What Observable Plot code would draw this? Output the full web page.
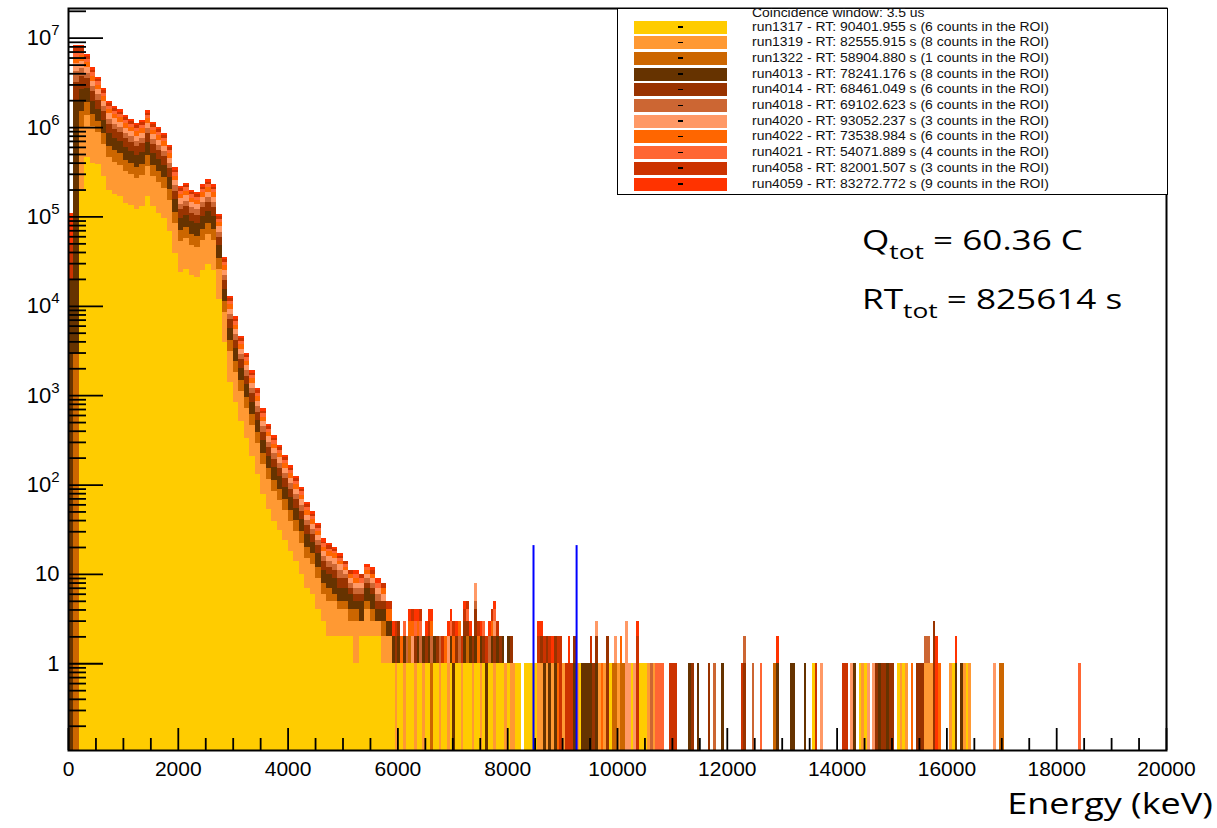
<!DOCTYPE html>
<html><head><meta charset="utf-8">
<script src="https://cdn.jsdelivr.net/npm/d3@7"></script>
<script src="https://cdn.jsdelivr.net/npm/@observablehq/plot@0.6"></script>
<style>
html,body{margin:0;padding:0;background:#fff;}
#wrap{position:relative;width:1217px;height:828px;overflow:hidden;}
#chart svg{display:block;}
#ticks{position:absolute;left:0;top:0;width:1217px;height:828px;pointer-events:none;}
#ticks svg{display:block;background:transparent;}
#legend{position:absolute;left:617px;top:8px;width:551px;height:187px;box-sizing:border-box;border:1.5px solid #000;background:#fff;font-family:"Liberation Sans",Arial,sans-serif;}
.sw{position:absolute;left:16px;width:93px;height:13px;}
.dash{position:absolute;left:44px;top:5.5px;width:5px;height:1.6px;background:#000;}
.lt{position:absolute;left:134px;font-size:12px;line-height:13px;color:#111;white-space:nowrap;transform:scaleX(1.16);transform-origin:0 50%;}
.ann{position:absolute;font-family:"Open Sans",sans-serif;font-size:27px;line-height:1;color:#000;white-space:nowrap;transform:scaleX(1.3);transform-origin:0 0;}
.ann sub{font-size:0.75em;vertical-align:-0.45em;line-height:0;}
#xlabel{position:absolute;right:4px;top:788px;font-family:"Open Sans",sans-serif;font-size:29px;line-height:1;color:#000;transform:scaleX(1.24);transform-origin:100% 0;white-space:nowrap;}
</style></head>
<body>
<div id="wrap"><div id="chart"></div><div id="ticks"></div></div>
<script>
// ---------------- data ----------------
const runs = ["run1317","run1319","run1322","run4013","run4014","run4018","run4020","run4022","run4021","run4058","run4059"];
const colors = ["#ffcc00","#ff9933","#cc6600","#663300","#993300","#cc6633","#ff9966","#ff6600","#ff6633","#cc3300","#ff3300"];
const liveTimes = ["90401.955","82555.915","58904.880","78241.176","68461.049","69102.623","93052.237","73538.984","54071.889","82001.507","83272.772"];
const roiCounts = [6,8,1,8,6,6,3,6,4,3,9];
const legendTitle = "Coincidence window: 3.5 us";

// bulk spectrum, 100 keV bins starting at 0 keV (counts per bin as drawn)
const bulkBinWidth = 100;
const bulk1317 = [0,0,2e5,4.6e5,4.0e5,3.9e5,2.8e5,2.0e5,1.8e5,1.7e5,
 1.4e5,1.35e5,1.2e5,1.3e5,1.7e5,1.3e5,1.1e5,9.6e4,6.9e4,3.9e4,
 2.4e4,2.6e4,2.2e4,2.1e4,2.5e4,2.9e4,2.5e4,1.2e4,3.9e3,1.4e3,
 840,510,330,210,130,78,53,39,31,24,
 18,14,10,7,6,4,3,2,2,2,
 2,2,1,2,2,2,2,1,1];
const bulk1319 = [0,0,8e5,9.0e5,6.2e5,4.8e5,3.6e5,2.6e5,2.3e5,2.1e5,
 1.8e5,1.6e5,1.5e5,1.6e5,2.0e5,1.5e5,1.3e5,1.1e5,8.2e4,4.6e4,
 2.9e4,3.1e4,2.6e4,2.5e4,3.0e4,3.4e4,3.0e4,1.4e4,4.6e3,1.7e3,
 990,600,390,250,160,92,62,46,36,28,
 21,16,12,8,7,5,3,3,3,2,
 2,1,2,1,2,1,1,1,1];
const bulk1322 = [0,3e3,5e5,5.5e5,3.8e5,3.0e5,2.2e5,1.6e5,1.4e5,1.3e5,
 1.1e5,1.0e5,9.0e4,9.6e4,1.2e5,9.2e4,8.0e4,7.0e4,5.0e4,2.8e4,
 1.8e4,1.9e4,1.6e4,1.5e4,1.8e4,2.1e4,1.8e4,8.4e3,2.8e3,1.0e3,
 610,370,240,150,96,57,38,28,22,17,
 13,10,8,5,4,3,2,2,1,1,
 1,1,1,0,1,1,0,1,0];
const bulk4013 = [2e4,2.0e6,1.2e6,8.3e5,5.8e5,4.4e5,3.4e5,2.4e5,2.1e5,1.9e5,
 1.7e5,1.5e5,1.3e5,1.4e5,1.9e5,1.4e5,1.2e5,1.0e5,7.6e4,4.2e4,
 2.6e4,2.9e4,2.4e4,2.3e4,2.8e4,3.1e4,2.8e4,1.3e4,4.2e3,1.6e3,
 910,550,360,230,140,85,58,43,34,26,
 20,15,11,8,6,5,3,3,3,2,
 2,2,1,2,2,2,1,1,1];
const bulk4014 = [0,1.2e6,1.0e6,7.6e5,5.3e5,4.1e5,3.1e5,2.2e5,1.9e5,1.7e5,
 1.5e5,1.4e5,1.2e5,1.3e5,1.7e5,1.3e5,1.1e5,9.6e4,6.9e4,3.9e4,
 2.4e4,2.6e4,2.2e4,2.1e4,2.5e4,2.9e4,2.5e4,1.2e4,3.9e3,1.4e3,
 840,510,330,210,130,78,53,39,31,24,
 18,14,10,7,5,4,3,2,2,2,
 2,1,1,1,1,1,1,1,0];
const bulk4018 = [0,1.0e6,9e5,5.5e5,3.8e5,3.0e5,2.2e5,1.6e5,1.4e5,1.3e5,
 1.1e5,1.0e5,9.0e4,9.6e4,1.2e5,9.2e4,8.0e4,7.0e4,5.0e4,2.8e4,
 1.8e4,1.9e4,1.6e4,1.5e4,1.8e4,2.1e4,1.8e4,8.4e3,2.8e3,1.0e3,
 610,370,240,150,96,57,38,28,22,17,
 13,10,8,5,4,3,2,2,2,2,
 1,1,1,1,1,1,1,0,0];
const bulk4020 = [0,1.0e6,9e5,6.2e5,4.3e5,3.3e5,2.5e5,1.8e5,1.6e5,1.4e5,
 1.2e5,1.1e5,1.0e5,1.1e5,1.4e5,1.0e5,9.0e4,7.8e4,5.7e4,3.2e4,
 2.0e4,2.2e4,1.8e4,1.7e4,2.1e4,2.3e4,2.1e4,9.5e3,3.2e3,1.2e3,
 680,410,270,170,110,64,43,32,25,19,
 15,11,9,6,4,3,2,2,2,2,
 1,1,1,1,1,1,1,1,0];
const bulk4022 = [0,9e5,9e5,6.2e5,4.3e5,3.3e5,2.5e5,1.8e5,1.6e5,1.4e5,
 1.2e5,1.1e5,1.0e5,1.1e5,1.4e5,1.0e5,9.0e4,7.8e4,5.7e4,3.2e4,
 2.0e4,2.2e4,1.8e4,1.7e4,2.1e4,2.3e4,2.1e4,9.5e3,3.2e3,1.2e3,
 680,410,270,170,110,64,43,32,25,19,
 15,11,9,6,5,3,2,2,2,1,
 1,1,1,0,1,1,0,1,1];
const bulk4021 = [0,8e5,7e5,4.8e5,3.4e5,2.6e5,2.0e5,1.4e5,1.2e5,1.1e5,
 9.7e4,8.8e4,7.8e4,8.4e4,1.1e5,8.0e4,7.0e4,6.1e4,4.4e4,2.5e4,
 1.5e4,1.7e4,1.4e4,1.3e4,1.6e4,1.8e4,1.6e4,7.4e3,2.5e3,910,
 530,320,210,130,84,50,34,25,20,15,
 12,9,7,4,3,3,2,1,1,1,
 1,0,1,1,1,0,1,0,0];
const bulk4058 = [3e4,7e5,6e5,4.1e5,2.9e5,2.2e5,1.7e5,1.2e5,1.0e5,9.5e4,
 8.3e4,7.6e4,6.7e4,7.2e4,9.3e4,6.9e4,6.0e4,5.2e4,3.8e4,2.1e4,
 1.3e4,1.4e4,1.2e4,1.1e4,1.4e4,1.6e4,1.4e4,6.3e3,2.1e3,780,
 460,280,180,110,72,43,29,21,17,13,
 10,8,6,4,3,2,1,2,1,1,
 1,1,0,1,0,1,0,1,1];
const bulk4059 = [6e4,7e5,6e5,4.1e5,2.9e5,2.2e5,1.7e5,1.2e5,1.0e5,9.5e4,
 8.3e4,7.6e4,6.7e4,7.2e4,9.3e4,6.9e4,6.0e4,5.2e4,3.8e4,2.1e4,
 1.3e4,1.4e4,1.2e4,1.1e4,1.4e4,1.6e4,1.4e4,6.3e3,2.1e3,780,
 460,280,180,110,72,43,29,21,17,13,
 10,7,5,3,3,2,2,1,1,1,
 0,0,1,0,1,1,1,0,0];

// high-energy tail: one entry per event, value = start of its 50 keV bin (keV)
const tailBinWidth = 50;
const tail1317 = [5900,6000,6050,6150,6200,6250,6350,6400,6500,6550,6650,6700,6800,6850,6950,7050,7100,7200,7250,7300,7400,7450,7550,7650,7700,7800,7850,7900,8000,8150,8200,8300,8350,8400,8450,8500,9300,9850,10250,10400,10450,10500,13550,14400,14500,15100,15200,16100,16350];
const tail1319 = [5950,6100,6300,6450,6750,6900,7150,7350,7500,7750,7950,8050,8100,8550,8600,8700,8800,9000,9250,9650,9750,10000,10550,10650,14450,15150,15250,15600,15650,15700,16050,16300,16400];
const tail1322 = [6200,6600,7250,9900,9950,10050,10100,12850,16950,17000];
const tail4013 = [5900,6000,6100,6350,6450,6550,6650,6950,7000,7200,7300,7400,7500,7600,7700,7800,7900,8000,8650,8750,8850,9200,9350,9400,9450,9500,9600,11300,11450,11900,12900,13150,13200,13400,14300,14750,14900,16150,16250];
const tail4014 = [5950,6000,6300,6500,6700,7050,7200,7250,7350,7400,7400,7550,7750,7850,8050,8600,8700,8850,9200,9550,9600,9800,9800,11350,11650,12300,14700,14800,14850,14950,15000,15450,15500,15550,15750,15750,15750];
const tail4018 = [6150,6400,6600,6750,7100,7400,7650,10600,11750,12300,12450,15600,15650];
const tail4020 = [6250,6900,7400,7400,7400,7750,9600,9950,10150,10150,10150,10200,10300,13700,14250,14550,14650,16850];
const tail4022 = [6050,6200,6250,6350,6600,6850,7000,7100,7450,7700,8900,9700,10050,15350,15850];
const tail4021 = [6100,6300,6400,6950,7250,7550,7750,10700,10750,10800,12600,18400];
const tail4058 = [5950,6250,6400,6550,6800,7000,7150,7200,7250,7450,7600,7700,7800,8550,8650,8750,8900,8950,8950,9050,9100,9150,9500,10350,10350,10950,11000,11050,12250,13600,14100,14150];
const tail4059 = [5900,6200,6300,6350,6500,6550,6600,6900,6950,7050,7200,7300,7500,7650,7750,8550,8600,8800,9100,10350,12900,15800,15800,16150];

const roiEdges = [8470, 9255];      // keV, blue ROI markers
const roiMarkerTop = 21;            // counts
const xTickLabels = [0,2000,4000,6000,8000,10000,12000,14000,16000,18000,20000];
const yTickLabels = [1,10,100,1e3,1e4,1e5,1e6,1e7];

// ---------------- build stacked rectangles ----------------
const yMin = 0.107, yMax = 2.15e7;
const bulk = [bulk1317,bulk1319,bulk1322,bulk4013,bulk4014,bulk4018,bulk4020,bulk4022,bulk4021,bulk4058,bulk4059];
const tails = [tail1317,tail1319,tail1322,tail4013,tail4014,tail4018,tail4020,tail4022,tail4021,tail4058,tail4059];
const rows = [];
function pushStack(x1, x2, counts) {
  let cum = 0;
  counts.forEach((c, s) => {
    if (!c) return;
    const lo = cum > 0 ? cum : yMin;
    cum += c;
    rows.push({x1, x2, y1: lo, y2: cum, run: runs[s]});
  });
}
for (let i = 0; i < bulk1317.length; i++) pushStack(i*bulkBinWidth, (i+1)*bulkBinWidth, bulk.map(a => a[i]));
const tailMap = new Map();
tails.forEach((list, s) => list.forEach(e => {
  if (!tailMap.has(e)) tailMap.set(e, new Array(runs.length).fill(0));
  tailMap.get(e)[s]++;
}));
for (const [e, counts] of tailMap) pushStack(e, e + tailBinWidth, counts);

const xMinor = d3.range(500, 20000, 500).filter(v => v % 2000 !== 0);
const yMinor = [];
for (let n = -1; n <= 7; n++) for (let m = 2; m <= 9; m++) { const v = m * Math.pow(10, n); if (v > yMin && v < yMax) yMinor.push(v); }

// inward tick geometry (pixel lengths converted to scale units)
const kevPerPx = 20000 / (1217 - 68 - 51);
const decadePx = (750 - 8) / Math.log10(yMax / yMin);
const yMajorTickLen = 35 * kevPerPx, yMinorTickLen = 18 * kevPerPx;
const xMajorTop = yMin * Math.pow(10, 22 / decadePx), xMinorTop = yMin * Math.pow(10, 12 / decadePx);

const common = {
  width: 1217, height: 828,
  marginLeft: 68, marginRight: 51, marginTop: 8, marginBottom: 78,
  x: {domain: [0, 20000], label: null},
  y: {type: "log", domain: [yMin, yMax], label: null}
};

// main layer: histogram, ROI markers, tick labels
const chart = Plot.plot({
  ...common,
  style: {fontFamily: '"Liberation Sans", Arial, sans-serif', fontSize: "21px", color: "#000", background: "transparent", overflow: "visible"},
  color: {type: "ordinal", domain: runs, range: colors},
  marks: [
    Plot.rect(rows, {x1: "x1", x2: "x2", y1: "y1", y2: "y2", fill: "run", shapeRendering: "crispEdges"}),
    Plot.ruleX(roiEdges, {x: d => d, y1: yMin, y2: roiMarkerTop, stroke: "#0000ff", strokeWidth: 2}),
    Plot.axisX(xTickLabels, {tickSize: 0, tickPadding: 11, tickFormat: d => String(d), fontSize: 21, label: null}),
    Plot.axisY(yTickLabels, {tickSize: 0, tickPadding: 9, fontSize: 22, label: null,
      tickFormat: d => d < 100 ? String(d) : "10^" + Math.round(Math.log10(d))})
  ]
});
document.getElementById("chart").appendChild(chart);

// top layer: inward ROOT-style ticks and the frame, same scales
const tickLayer = Plot.plot({
  ...common,
  style: {background: "transparent", color: "#000", overflow: "visible"},
  marks: [
    Plot.ruleX(xMinor, {x: d => d, y1: yMin, y2: xMinorTop, stroke: "#000", strokeWidth: 1.8}),
    Plot.ruleX(xTickLabels, {x: d => d, y1: yMin, y2: xMajorTop, stroke: "#000", strokeWidth: 1.8}),
    Plot.ruleY(yMinor, {y: d => d, x1: 0, x2: yMinorTickLen, stroke: "#000", strokeWidth: 1.8}),
    Plot.ruleY(yTickLabels, {y: d => d, x1: 0, x2: yMajorTickLen, stroke: "#000", strokeWidth: 1.8}),
    Plot.frame({stroke: "#000", strokeWidth: 2}),
    Plot.axisX({ticks: [], label: null}),
    Plot.axisY({ticks: [], label: null})
  ]
});
document.getElementById("ticks").appendChild(tickLayer);

// superscript exponents on the log-axis labels
chart.querySelectorAll("text").forEach(t => {
  const m = /^10\^(\d+)$/.exec(t.textContent);
  if (m) {
    t.textContent = "10";
    const ts = document.createElementNS("http://www.w3.org/2000/svg", "tspan");
    ts.setAttribute("dy", "-10");
    ts.setAttribute("font-size", "15");
    ts.textContent = m[1];
    t.appendChild(ts);
  }
});

// ---------------- legend (inside the frame, top right) ----------------
const wrap = document.getElementById("wrap");
const lg = document.createElement("div");
lg.id = "legend";
const title = document.createElement("div");
title.className = "lt"; title.style.top = "-2px"; title.textContent = legendTitle;
lg.appendChild(title);
runs.forEach((r, j) => {
  const top = 11.5 + 15.7 * j;
  const sw = document.createElement("div");
  sw.className = "sw"; sw.style.top = top + "px"; sw.style.background = colors[j];
  const dash = document.createElement("div"); dash.className = "dash"; sw.appendChild(dash);
  lg.appendChild(sw);
  const tx = document.createElement("div");
  tx.className = "lt"; tx.style.top = top + "px";
  tx.textContent = `${r} - RT: ${liveTimes[j]} s (${roiCounts[j]} counts in the ROI)`;
  lg.appendChild(tx);
});
wrap.appendChild(lg);

// annotations
const a1 = document.createElement("div");
a1.className = "ann"; a1.style.left = "862px"; a1.style.top = "226px";
a1.innerHTML = "Q<sub>tot</sub> = 60.36 C";
wrap.appendChild(a1);
const a2 = document.createElement("div");
a2.className = "ann"; a2.style.left = "862px"; a2.style.top = "285px";
a2.innerHTML = "RT<sub>tot</sub> = 825614 s";
wrap.appendChild(a2);
const xl = document.createElement("div");
xl.id = "xlabel"; xl.textContent = "Energy (keV)";
wrap.appendChild(xl);
</script>
</body></html>
